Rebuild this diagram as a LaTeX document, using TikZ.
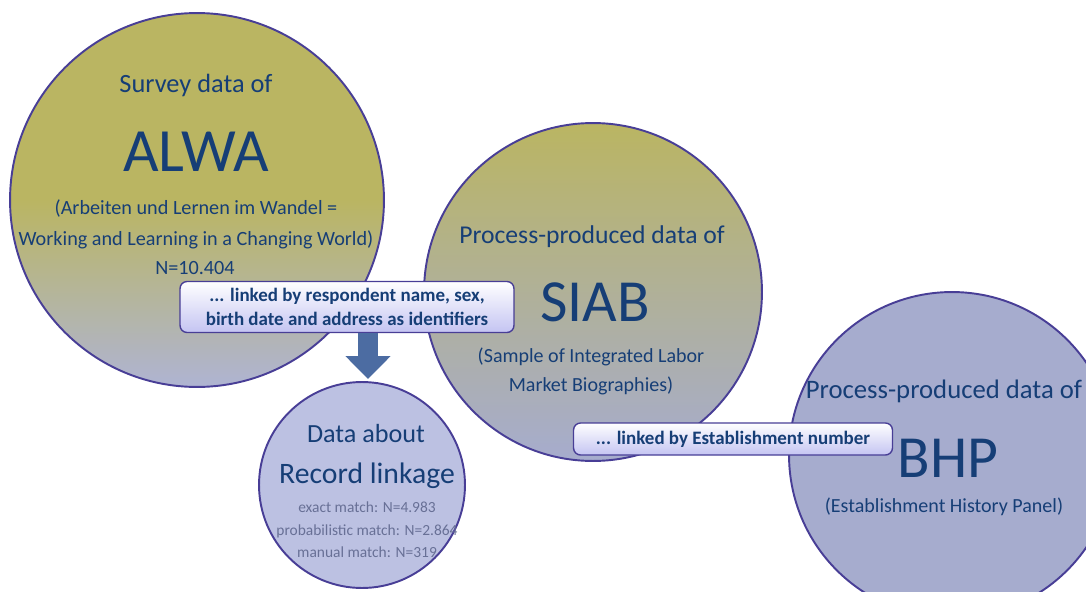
\documentclass[tikz,border=0pt]{standalone}
\usepackage{fontspec}
\setmainfont{Carlito}
\usetikzlibrary{positioning,arrows.meta}

\definecolor{surveyolive}{RGB}{186,181,98}
\definecolor{procblue}{RGB}{166,172,206}
\definecolor{linkfill}{RGB}{188,193,226}
\definecolor{rimblue}{RGB}{72,62,150}
\definecolor{textblue}{RGB}{22,62,118}
\definecolor{faintblue}{RGB}{104,112,150}
\definecolor{boxlav}{RGB}{196,196,242}
\definecolor{arrowblue}{RGB}{76,108,162}

\tikzset{
  datacircle/.style={circle,draw=rimblue,line width=1.1pt},
  linkbox/.style={draw=rimblue,line width=0.8pt,rounded corners=4pt,
    top color=white,bottom color=boxlav,align=center,text=textblue,
    font=\bfseries\fontsize{10.8}{13.5}\selectfont,inner sep=2pt},
  downarrow/.style={draw=arrowblue,line width=0.4cm,
    -{Triangle[width=0.88cm,length=0.46cm]}}
}

\begin{document}
\begin{tikzpicture}[x=0.02cm,y=-0.02cm]
  \useasboundingbox (0,0) rectangle (1086,592);
  \clip (0,0) rectangle (1086,592);

  % the four data sources
  \node[datacircle,minimum size=7.48cm,top color=surveyolive,
    bottom color=procblue!90!white,middle color=surveyolive] (alwa) at (197,200) {};
  \node[datacircle,minimum size=6.76cm,top color=surveyolive,
    bottom color=procblue] (siab) at (593,292) {};
  \node[datacircle,minimum size=4.12cm,fill=linkfill] (rec) at (362,485) {};
  \node[datacircle,minimum size=6.52cm,fill=procblue] (bhp) at (952,455) {};

  \begin{scope}[every node/.style={text=textblue,align=center,inner sep=0pt}]
    \node[font=\fontsize{15}{17}\selectfont] (a1) at (196,85) {Survey data of};
    \node[font=\fontsize{35}{40}\selectfont] (a2) at (196,152) {ALWA};
    \node[font=\fontsize{11.5}{17.5}\selectfont] (a3) at (196,224)
      {(Arbeiten und Lernen im Wandel =\\Working and Learning in a Changing World)};
    \node[font=\fontsize{11.5}{13}\selectfont] (a4) at (195,268) {N=10.404};

    \node[font=\fontsize{14.6}{16}\selectfont] (s1) at (592,237) {Process-produced data of};
    \node[font=\fontsize{34}{36}\selectfont] (s2) at (595,302) {SIAB};
    \node[font=\fontsize{11.4}{16.5}\selectfont] (s3) at (591,371)
      {(Sample of Integrated Labor\\Market Biographies)};

    \node[font=\fontsize{14.9}{17}\selectfont] (r1) at (366,434) {Data about};
    \node[font=\fontsize{16.9}{19}\selectfont] (r2) at (367,476) {Record linkage};
    \node[text=faintblue,font=\fontsize{8.8}{12.8}\selectfont] (r3) at (367,530)
      {exact match: N=4.983\\probabilistic match: N=2.864\\manual match: N=319};

    \node[font=\fontsize{15.2}{17}\selectfont] (b1) at (944,391) {Process-produced data of};
    \node[font=\fontsize{34}{36}\selectfont] (b2) at (948,458) {BHP};
    \node[font=\fontsize{11.4}{13}\selectfont] (b3) at (944,507) {(Establishment History Panel)};
  \end{scope}

  % linkage labels
  \node[linkbox,minimum width=6.68cm,minimum height=1.02cm] (link1) at (347,307)
    {... linked by respondent name, sex,\\birth date and address as identifiers};
  \node[linkbox,minimum width=6.38cm,minimum height=0.64cm] (link2) at (733,439)
    {... linked by Establishment number};

  \coordinate (tip) at (368,379);
  \draw[downarrow] (link1.south -| tip) -- (tip);

\end{tikzpicture}
\end{document}
